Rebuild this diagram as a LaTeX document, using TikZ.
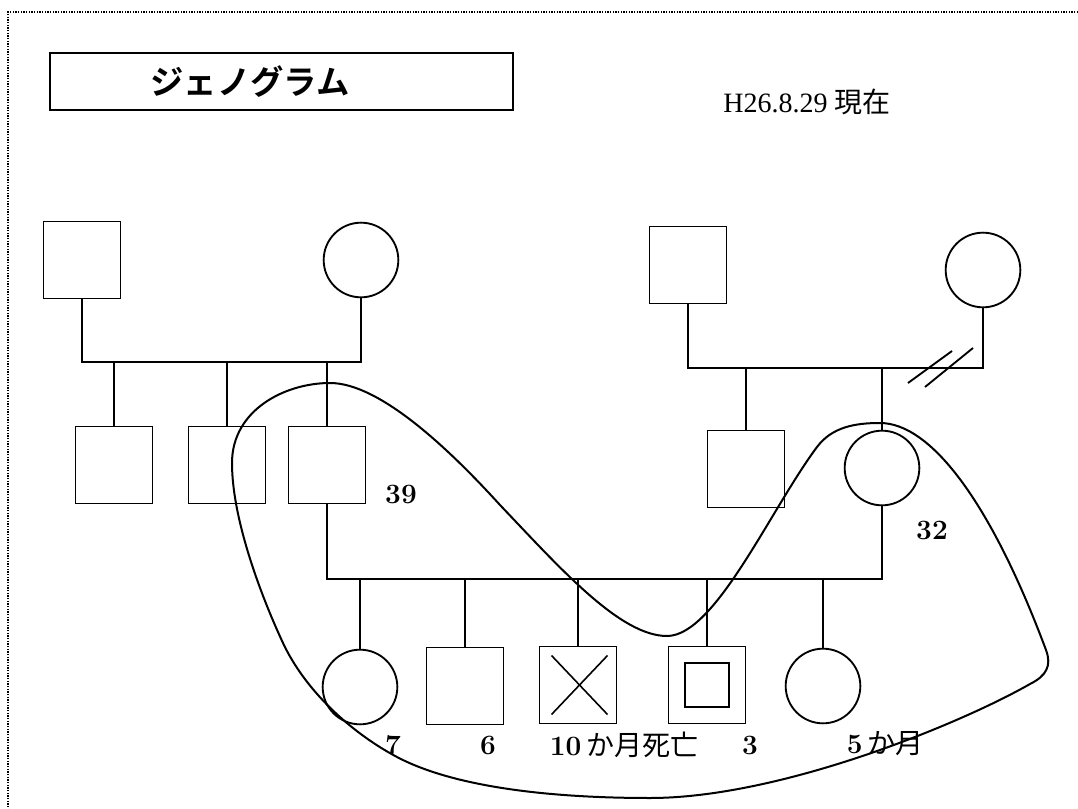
\documentclass[tikz,border=0pt]{standalone}
\usepackage{fontspec}
\newfontfamily\cjk[BoldFont={Noto Sans CJK JP Bold}]{Noto Sans CJK JP}
\newfontfamily\tms{Liberation Serif}
\usetikzlibrary{calc}
\begin{document}
\begin{tikzpicture}[x=0.75pt,y=-0.75pt,
  sq/.style={draw,line width=1.4pt,minimum size=57.75pt,inner sep=0pt,outer sep=0pt},
  circ/.style={draw,circle,line width=1.4pt,minimum size=56pt,inner sep=0pt,outer sep=0pt},
  conn/.style={line width=1.1pt},
  hh/.style={line width=1.5pt},
  lbl/.style={font=\fontsize{21}{24}\selectfont\bfseries,inner sep=0pt},
  jlbl/.style={font=\fontsize{21}{24}\selectfont,inner sep=0pt}]
\useasboundingbox (0,0) rectangle (1078,809);
\fill[white] (0,0) rectangle (1078,809);
% border
\draw[densely dotted,line width=1pt] (1078,12) -- (8,12) -- (8,809);
% title
\node[draw,line width=1.4pt,minimum width=347.25pt,minimum height=42.75pt,inner sep=0pt] (title) at (281.5,81.5) {};
\node[font=\fontsize{25}{27}\selectfont\cjk\bfseries] (titletext) at (250,82) {ジェノグラム};
\node[jlbl,font=\fontsize{21}{24}\selectfont\tms] (date) at (807,102) {H26.8.29 {\cjk 現在}};
% generation 1
\node[sq] (gA) at (82,260) {};
\node[circ] (gB) at (361,260) {};
\node[sq] (gC) at (688,265) {};
\node[circ] (gD) at (983,270) {};
% generation 2
\node[sq] (c1) at (114,465) {};
\node[sq] (c2) at (227,465) {};
\node[sq] (c3) at (327,465) {};
\node[sq] (c4) at (746,469) {};
\node[circ] (c5) at (882,468) {};
% generation 3
\node[circ] (k1) at (360,687) {};
\node[sq] (k2) at (465,686) {};
\node[sq] (k3) at (578,685) {};
\node[sq] (k4) at (707,685) {};
\node[draw,line width=1.4pt,minimum size=33pt,inner sep=0pt] (k4in) at (707,685) {};
\node[circ] (k5) at (823,686) {};
\draw[line width=1.2pt] ($(k3.south west)+(12,-9)$) -- ($(k3.north east)+(-9,9)$);
\draw[line width=1.2pt] ($(k3.north west)+(12,9)$) -- ($(k3.south east)+(-9,-9)$);
% left parents
\coordinate (L) at (0,362);
\draw[conn] (gA.south) |- (gB.south |- L) -- (gB.south);
\foreach \c in {c1,c2,c3} \draw[conn] (\c.north) -- (\c.north |- L);
% right parents
\coordinate (R) at (0,368);
\draw[conn] (gC.south) |- (gD.south |- R) -- (gD.south);
\draw[line width=1.4pt] (908,383) -- (952,351);
\draw[line width=1.4pt] (925,387) -- (973,348);
\draw[conn] (c4.north) -- (c4.north |- R);
\draw[conn] (c5.north) -- (c5.north |- R);
% marriage
\coordinate (M) at (0,579);
\draw[conn] (c3.south) |- (c5.south |- M) -- (c5.south);
\foreach \c in {k1,k2,k3,k4,k5} \draw[conn] (\c.north) -- (\c.north |- M);
% labels
\node[lbl] (l39) at (401,494) {39};
\node[lbl] (l32) at (932,530) {32};
\node[lbl] (l7) at (393,745) {7};
\node[lbl] (l6) at (488,745) {6};
\node[jlbl] (l10) at (624,745) {\textbf{10}\,{\cjk か月死亡}};
\node[lbl] (l3) at (750,745) {3};
\node[jlbl] (l5) at (885,744) {\textbf{5}\,{\cjk か月}};
% household
\draw[hh] (232,463) .. controls (232,410) and (285,383) .. (330,383)
  .. controls (380,383) and (450,450) .. (500,505)
  .. controls (560,568) and (620,636) .. (667,636)
  .. controls (715,636) and (770,510) .. (817,447)
  .. controls (832,427) and (855,423) .. (880,423)
  .. controls (930,423) and (990,500) .. (1046,650)
  .. controls (1052,666) and (1046,676) .. (1030,684)
  .. controls (960,724) and (780,798) .. (650,798)
  .. controls (540,798) and (450,785) .. (397,757)
  .. controls (350,732) and (305,690) .. (283,643)
  .. controls (262,598) and (232,520) .. (232,463) -- cycle;
\end{tikzpicture}
\end{document}
